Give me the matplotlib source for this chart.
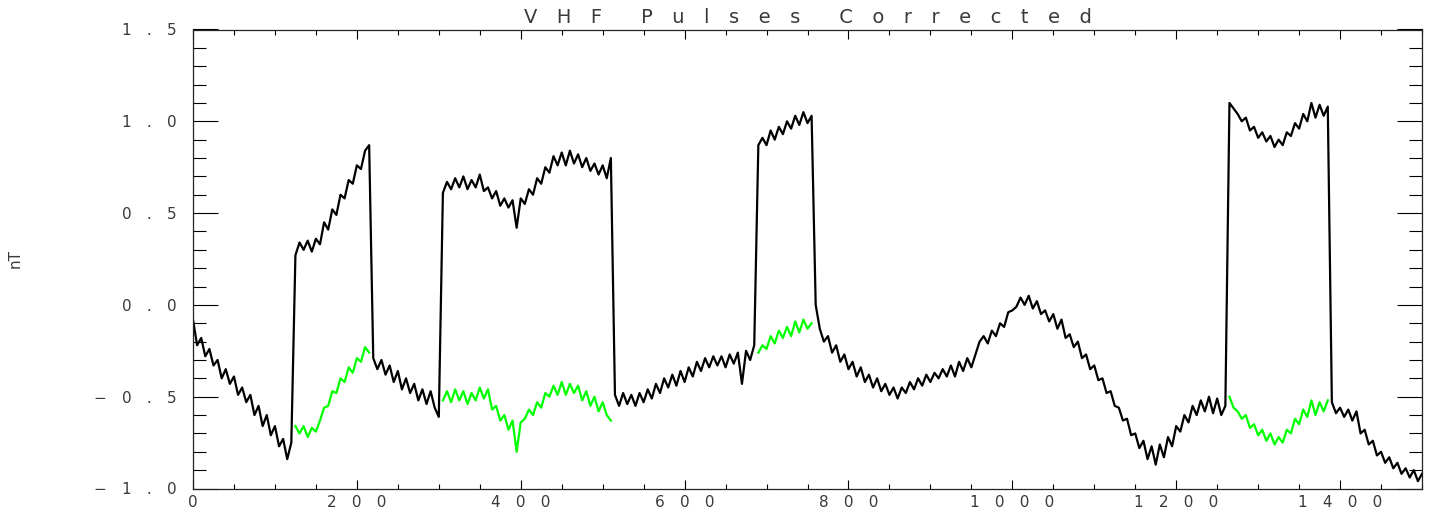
import matplotlib
matplotlib.use("Agg")
import matplotlib.pyplot as plt
import matplotlib.ticker as mt
import numpy as np

# raw field, one value every 5 samples (0 .. 1500)
step = 5
nt_raw = [
    -0.08, -0.22, -0.18, -0.28, -0.24, -0.33, -0.30, -0.40, -0.35, -0.43,
    -0.39, -0.49, -0.45, -0.53, -0.49, -0.60, -0.55, -0.66, -0.60, -0.71,
    -0.66, -0.77, -0.73, -0.84, -0.75, 0.27, 0.34, 0.30, 0.35, 0.29,
    0.36, 0.33, 0.45, 0.41, 0.52, 0.49, 0.60, 0.58, 0.68, 0.66,
    0.76, 0.74, 0.84, 0.87, -0.29, -0.35, -0.30, -0.38, -0.33, -0.42,
    -0.36, -0.46, -0.40, -0.48, -0.43, -0.52, -0.46, -0.54, -0.47, -0.56,
    -0.61, 0.61, 0.67, 0.63, 0.69, 0.64, 0.70, 0.63, 0.68, 0.64,
    0.71, 0.62, 0.64, 0.58, 0.62, 0.54, 0.58, 0.53, 0.57, 0.42,
    0.58, 0.55, 0.63, 0.60, 0.69, 0.66, 0.75, 0.72, 0.81, 0.76,
    0.83, 0.76, 0.84, 0.77, 0.82, 0.75, 0.80, 0.73, 0.77, 0.71,
    0.76, 0.69, 0.80, -0.49, -0.55, -0.48, -0.54, -0.49, -0.55, -0.48,
    -0.53, -0.46, -0.51, -0.43, -0.48, -0.40, -0.45, -0.38, -0.44, -0.36,
    -0.42, -0.34, -0.39, -0.31, -0.36, -0.29, -0.34, -0.28, -0.33, -0.28,
    -0.34, -0.27, -0.32, -0.26, -0.43, -0.25, -0.30, -0.22, 0.87, 0.91,
    0.87, 0.95, 0.90, 0.97, 0.93, 1.00, 0.96, 1.03, 0.98, 1.05,
    0.99, 1.03, 0.00, -0.13, -0.20, -0.17, -0.26, -0.22, -0.31, -0.27,
    -0.35, -0.31, -0.39, -0.34, -0.42, -0.38, -0.45, -0.40, -0.47, -0.43,
    -0.49, -0.45, -0.51, -0.45, -0.48, -0.42, -0.46, -0.40, -0.44, -0.38,
    -0.42, -0.37, -0.40, -0.35, -0.39, -0.33, -0.39, -0.31, -0.36, -0.29,
    -0.34, -0.27, -0.20, -0.17, -0.21, -0.14, -0.17, -0.10, -0.12, -0.04,
    -0.03, -0.01, 0.04, 0.00, 0.05, -0.02, 0.02, -0.05, -0.03, -0.09,
    -0.05, -0.13, -0.08, -0.18, -0.16, -0.23, -0.20, -0.29, -0.27, -0.35,
    -0.33, -0.41, -0.40, -0.48, -0.47, -0.55, -0.56, -0.63, -0.62, -0.71,
    -0.70, -0.78, -0.74, -0.84, -0.77, -0.87, -0.76, -0.83, -0.72, -0.77,
    -0.66, -0.69, -0.60, -0.64, -0.55, -0.60, -0.52, -0.58, -0.50, -0.59,
    -0.51, -0.60, -0.55, 1.10, 1.07, 1.04, 1.00, 1.02, 0.95, 0.97,
    0.91, 0.94, 0.89, 0.92, 0.86, 0.90, 0.87, 0.94, 0.92, 0.99,
    0.96, 1.04, 1.00, 1.10, 1.02, 1.09, 1.03, 1.08, -0.53, -0.59,
    -0.56, -0.61, -0.57, -0.63, -0.58, -0.70, -0.68, -0.76, -0.74, -0.82,
    -0.80, -0.86, -0.83, -0.89, -0.86, -0.92, -0.89, -0.94, -0.90, -0.96,
    -0.92,
]

# corrected values during the four VHF pulses
pulse_starts = [125, 305, 690, 1265]
corr_1 = [-0.66, -0.70, -0.66, -0.72, -0.67, -0.69, -0.63, -0.56, -0.55, -0.47,
          -0.48, -0.40, -0.42, -0.34, -0.37, -0.29, -0.31, -0.23, -0.26]
corr_2 = [-0.52, -0.47, -0.53, -0.46, -0.52, -0.47, -0.54, -0.48, -0.52, -0.45,
          -0.51, -0.46, -0.57, -0.55, -0.63, -0.60, -0.68, -0.63, -0.80, -0.64,
          -0.62, -0.57, -0.60, -0.53, -0.56, -0.48, -0.50, -0.44, -0.49, -0.42,
          -0.49, -0.43, -0.48, -0.44, -0.52, -0.47, -0.55, -0.50, -0.58, -0.53,
          -0.60, -0.63]
corr_3 = [-0.26, -0.22, -0.24, -0.17, -0.21, -0.14, -0.18, -0.12, -0.17, -0.09,
          -0.15, -0.08, -0.13, -0.10]
corr_4 = [-0.50, -0.56, -0.58, -0.62, -0.60, -0.67, -0.65, -0.71, -0.68, -0.74,
          -0.70, -0.76, -0.72, -0.75, -0.68, -0.70, -0.62, -0.65, -0.57, -0.61,
          -0.52, -0.60, -0.53, -0.58, -0.52]
corrected = [corr_1, corr_2, corr_3, corr_4]

title = "VHF Pulses Corrected"
ylabel = "nT"
xticks = [0, 200, 400, 600, 800, 1000, 1200, 1400]
yticks = [-1.0, -0.5, 0.0, 0.5, 1.0, 1.5]

SP = "\u2003"  # wide letter spacing, a bit like the old plotter font


def spaced(s):
    return (SP * 2).join(SP.join(w) for w in s.split())


txt_color = "#3a3a3a"

fig = plt.figure(figsize=(14.32, 5.12), dpi=100)
ax = fig.add_axes([193 / 1432, 1 - 488.5 / 512, 1229 / 1432, 459 / 512])

x_raw = np.arange(len(nt_raw)) * step
ax.plot(x_raw, nt_raw, color="black", lw=1.6)
for start, vals in zip(pulse_starts, corrected):
    xs = start + np.arange(len(vals)) * step
    ax.plot(xs, vals, color="#00ff00", lw=1.6)

ax.set_xlim(0, 1500)
ax.set_ylim(-1.0, 1.5)

ax.set_xticks(xticks)
ax.xaxis.set_minor_locator(mt.MultipleLocator(50))
ax.xaxis.set_major_formatter(mt.FuncFormatter(lambda v, p: spaced(str(int(round(v))))))
ax.set_yticks(yticks)
ax.yaxis.set_minor_locator(mt.MultipleLocator(0.1))
ax.yaxis.set_major_formatter(
    mt.FuncFormatter(lambda v, p: spaced(f"{v:.1f}".replace("-", "\u2212"))))

ax.tick_params(axis="x", which="major", direction="in", length=6.5, width=0.8,
               top=True, bottom=True, pad=5, labelsize=11, labelcolor=txt_color)
ax.tick_params(axis="x", which="minor", direction="in", length=3.6, width=0.8,
               top=True, bottom=True)
ax.tick_params(axis="y", which="major", direction="in", length=18, width=0.8,
               left=True, right=True, pad=12, labelsize=11, labelcolor=txt_color)
ax.tick_params(axis="y", which="minor", direction="in", length=9.4, width=0.8,
               left=True, right=True)
for s in ax.spines.values():
    s.set_linewidth(0.9)
    s.set_color("#222222")

ax.set_title(spaced(title), fontsize=14, color=txt_color, pad=5)
ax.set_ylabel(ylabel, fontsize=11, color=txt_color)
ax.yaxis.set_label_coords(-0.139, 0.5)

fig.savefig("out.png", dpi=100)
